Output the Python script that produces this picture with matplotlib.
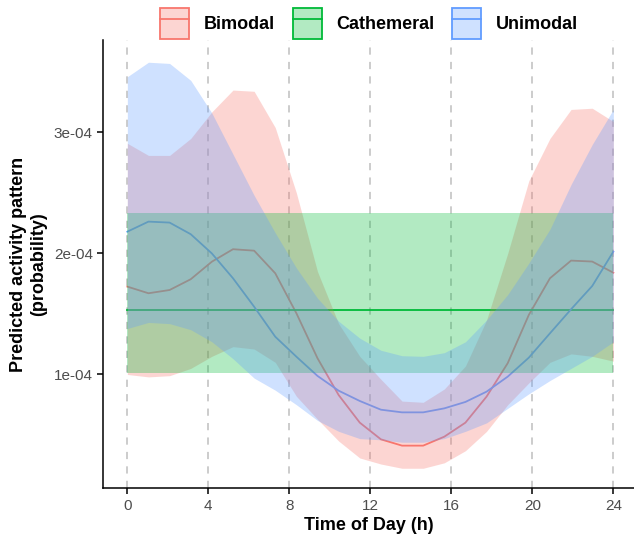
import numpy as np
import matplotlib
matplotlib.use("Agg")
import matplotlib.pyplot as plt
from matplotlib.patches import Patch
from matplotlib.lines import Line2D
from matplotlib.colors import to_rgba
from matplotlib.legend_handler import HandlerTuple

plt.rcParams["font.family"] = ["Liberation Sans", "DejaVu Sans"]

# ===============================
# Data (values in units of 1e-4)
# ===============================
hours = np.linspace(0, 24, 24)
groups = ["Bimodal", "Cathemeral", "Unimodal"]
colors = ["#F8766D", "#00BA38", "#619CFF"]

bimodal_mean = [1.726, 1.671, 1.698, 1.787, 1.932, 2.035, 2.023, 1.836, 1.506, 1.134, 0.83, 0.602,
                0.464, 0.412, 0.412, 0.486, 0.602, 0.817, 1.093, 1.492, 1.795, 1.941, 1.933, 1.841]
bimodal_lo = [1.0, 0.98, 0.99, 1.05, 1.15, 1.23, 1.21, 1.10, 0.82, 0.63, 0.45, 0.31,
              0.26, 0.225, 0.225, 0.27, 0.37, 0.53, 0.75, 0.93, 1.10, 1.17, 1.15, 1.11]
bimodal_hi = [2.91, 2.81, 2.81, 2.95, 3.17, 3.35, 3.34, 3.04, 2.50, 1.85, 1.42, 1.15,
              0.96, 0.78, 0.77, 0.88, 1.07, 1.45, 2.0, 2.6, 2.95, 3.19, 3.20, 3.09]

cathemeral_mean = [1.533] * 24
cathemeral_lo = [1.01] * 24
cathemeral_hi = [2.332] * 24

unimodal_mean = [2.18, 2.263, 2.255, 2.159, 2.0, 1.795, 1.56, 1.312, 1.147, 0.988, 0.866, 0.781,
                 0.709, 0.687, 0.687, 0.72, 0.773, 0.858, 0.982, 1.139, 1.34, 1.539, 1.731, 2.015]
unimodal_lo = [1.38, 1.43, 1.42, 1.37, 1.27, 1.13, 0.97, 0.87, 0.75, 0.62, 0.53, 0.47,
               0.46, 0.44, 0.44, 0.47, 0.53, 0.6, 0.72, 0.84, 0.95, 1.05, 1.15, 1.27]
unimodal_hi = [3.46, 3.58, 3.57, 3.43, 3.16, 2.82, 2.48, 2.17, 1.88, 1.63, 1.44, 1.30,
               1.20, 1.155, 1.15, 1.18, 1.27, 1.45, 1.66, 1.92, 2.20, 2.57, 2.90, 3.19]

means = [bimodal_mean, cathemeral_mean, unimodal_mean]
lows = [bimodal_lo, cathemeral_lo, unimodal_lo]
highs = [bimodal_hi, cathemeral_hi, unimodal_hi]

# ===============================
# Plot
# ===============================
fig = plt.figure(figsize=(6.34, 5.35), dpi=100)
ax = fig.add_axes([0.163, 0.0873, 0.837, 0.838])

for v in range(0, 25, 4):
    ax.axvline(v, color="#C8C8C8", lw=1.3, ls=(0, (4, 4)), zorder=0)

scale = 1e-4
for m, c in zip(means, colors):
    ax.plot(hours, np.array(m) * scale, color=c, lw=1.3, zorder=1)
for lo, hi, c in zip(lows, highs, colors):
    ax.fill_between(hours, np.array(lo) * scale, np.array(hi) * scale,
                    color=c, alpha=0.3, lw=0, zorder=2)

ax.set_xlim(-1.185, 25.02)
ax.set_ylim(0.0595e-4, 3.764e-4)
ax.set_xticks(range(0, 25, 4))
ax.set_yticks([1e-4, 2e-4, 3e-4])
ax.set_yticklabels(["1e-04", "2e-04", "3e-04"])

for s in ["top", "right"]:
    ax.spines[s].set_visible(False)
for s in ["left", "bottom"]:
    ax.spines[s].set_linewidth(1.1)
ax.tick_params(axis="both", labelsize=11, labelcolor="#4D4D4D", length=4, width=1.1)

ax.set_xlabel("Time of Day (h)", fontsize=13, fontweight="bold", labelpad=3)
ax.set_ylabel("Predicted activity pattern\n(probability)", fontsize=13, fontweight="bold", labelpad=5)

handles = [(Patch(facecolor=to_rgba(c, 0.3), edgecolor=c, lw=1.3),
            Line2D([], [], color=c, lw=1.3)) for c in colors]
fig.legend(handles, groups, loc="center", bbox_to_anchor=(0.582, 0.956), ncol=3, frameon=False,
           prop={"weight": "bold", "size": 13}, handlelength=1.6, handleheight=2.2,
           columnspacing=1.0, handletextpad=0.8,
           handler_map={tuple: HandlerTuple(ndivide=1, pad=0)})

fig.savefig("out.png", dpi=100)
